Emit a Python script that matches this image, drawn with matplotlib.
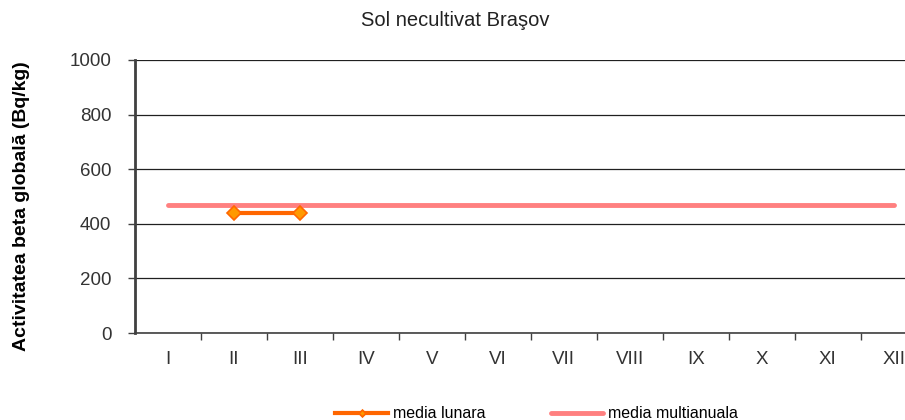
import matplotlib
matplotlib.use('Agg')
import matplotlib.pyplot as plt
import numpy as np

luni = ['I', 'II', 'III', 'IV', 'V', 'VI', 'VII', 'VIII', 'IX', 'X', 'XI', 'XII']
media_lunara = [np.nan, 440, 440, np.nan, np.nan, np.nan, np.nan, np.nan, np.nan, np.nan, np.nan, np.nan]
media_multianuala = [470] * 12

plt.rcParams['font.family'] = ['Liberation Sans', 'DejaVu Sans']

fig = plt.figure(figsize=(9.05, 4.2), dpi=100)
ax = fig.add_axes([135 / 905, 1 - 333 / 420, 1 - 135 / 905, 273 / 420])

x = np.arange(len(luni))
ax.plot(x, media_multianuala, color='#FF8080', lw=3.5, solid_capstyle='round',
        label='media multianuala', zorder=3)
ax.plot(x, media_lunara, color='#FF6600', lw=3, marker='D', ms=7,
        mfc='#FF9900', mec='#FF6600', mew=1.2, label='media lunara', zorder=4)

ax.set_xlim(-0.5, 11.17)
ax.set_ylim(0, 1000)
ax.set_yticks(np.arange(0, 1001, 200))
ax.set_xticks(x)
ax.set_xticklabels(luni)
ax.set_xticks(np.arange(0.5, 11.5, 1), minor=True)
ax.tick_params(axis='x', which='major', length=0, pad=13, labelsize=13.5, labelcolor='#333333')
ax.tick_params(axis='x', which='minor', length=5, width=1, color='#404040')
ax.tick_params(axis='y', length=5, width=1, color='#404040', pad=12, labelsize=13.5, labelcolor='#333333')
ax.yaxis.grid(True, color='#202020', lw=0.9)
ax.set_axisbelow(True)
for s in ['top', 'right']:
    ax.spines[s].set_visible(False)
ax.spines['left'].set_color('#404040')
ax.spines['left'].set_linewidth(2)
ax.spines['bottom'].set_color('#404040')
ax.spines['bottom'].set_linewidth(1.2)

fig.text(22 / 905, 1 - 206 / 420, 'Activitatea beta globală (Bq/kg)', rotation=90,
         ha='center', va='center', fontsize=14, fontweight='bold')
fig.text(455 / 905, 1 - 20 / 420, 'Sol necultivat Braşov', ha='center', va='center',
         fontsize=14.5, color='#222222')

h, l = ax.get_legend_handles_labels()
fig.legend(h[::-1], l[::-1], loc='center', bbox_to_anchor=(0.593, 0.015), ncol=2, frameon=False,
           fontsize=11.5, handlelength=3.3, columnspacing=4.1, handletextpad=0.3, markerscale=0.5)

fig.savefig('out.png', dpi=100)
